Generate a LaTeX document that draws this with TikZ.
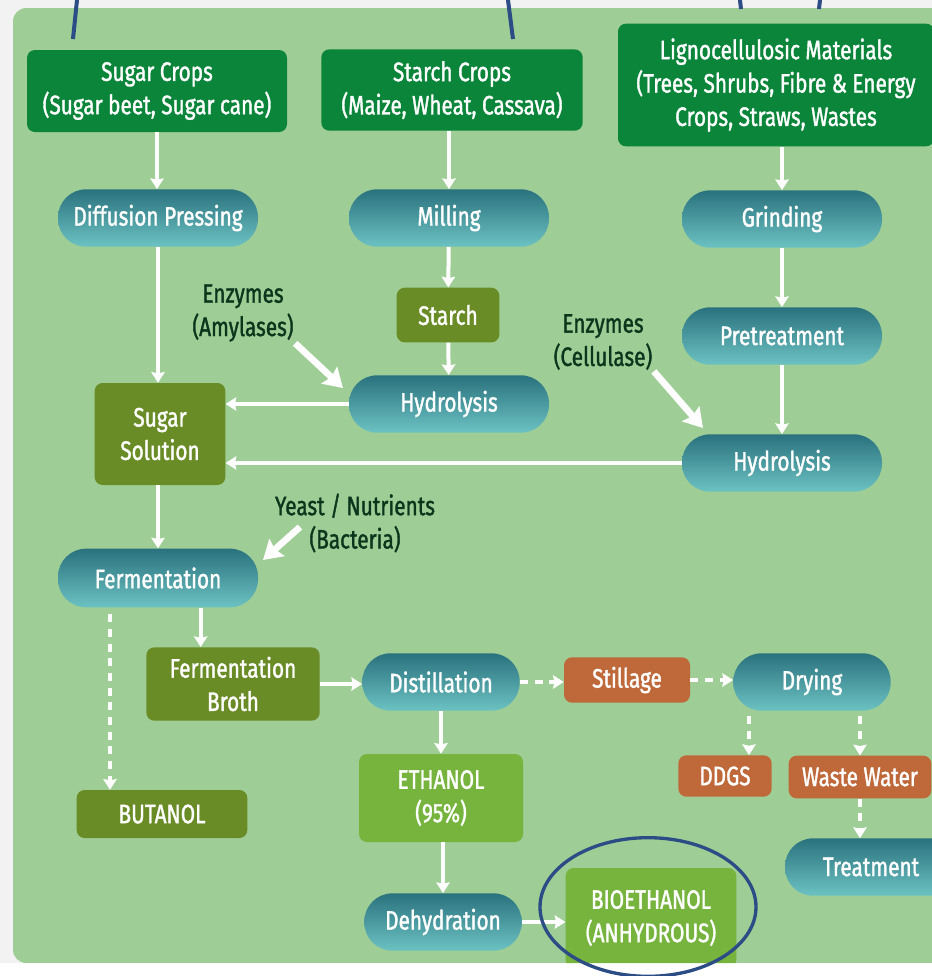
\documentclass[tikz,border=0pt]{standalone}
\usepackage{fontspec}
\setmainfont{Fira Sans}[FakeStretch=0.78, FakeBold=1.3]
\usetikzlibrary{arrows.meta}

\definecolor{panelgreen}{RGB}{158,205,150}
\definecolor{cropgreen}{RGB}{10,133,58}
\definecolor{olive}{RGB}{106,140,38}
\definecolor{leaf}{RGB}{118,180,62}
\definecolor{rust}{RGB}{191,105,58}
\definecolor{tealdark}{RGB}{42,114,126}
\definecolor{teallight}{RGB}{108,194,194}
\definecolor{inkgreen}{RGB}{12,54,28}
\definecolor{navy}{RGB}{44,76,134}

\tikzset{
  box/.style={rounded corners=6pt, text=white, align=center, inner sep=2pt,
    font=\fontsize{20}{25}\selectfont},
  crop/.style={box, fill=cropgreen},
  stage/.style={box, fill=olive},
  product/.style={box, fill=leaf},
  byproduct/.style={box, fill=rust},
  process/.style={box, rounded corners=21pt, top color=tealdark, bottom color=teallight,
    minimum width=150pt, minimum height=43pt},
  input/.style={text=inkgreen, align=center, inner sep=1pt, font=\fontsize{20}{25}\selectfont},
  flow/.style={white, line width=3pt, -{Stealth[length=8pt,width=10pt,inset=1pt]}},
  sideflow/.style={flow, dash pattern=on 6pt off 5pt},
  feed/.style={white, line width=5pt, -{Stealth[length=14pt,width=17pt,inset=2pt]}}
}

\begin{document}
\begin{tikzpicture}[x=0.75pt, y=-0.75pt]
	\useasboundingbox (0,0) rectangle (932,976);
	% page behind the panel
	\fill[black!5] (0,0) rectangle (932,976);
	\fill[white] (0,963) rectangle (932,976);

	\begin{scope}
	\path[clip, rounded corners=10pt] (13,8) rectangle (960,963);
	\fill[panelgreen] (13,8) rectangle (960,963);

	% feedstocks
	\node[crop, minimum width=195pt, minimum height=61.5pt] (sugarcrops) at (157,91) {Sugar Crops\\(Sugar beet, Sugar cane)};
	\node[crop, minimum width=196pt, minimum height=61pt] (starchcrops) at (452,90) {Starch Crops\\(Maize, Wheat, Cassava)};
	\node[crop, minimum width=237pt, minimum height=92pt] (ligno) at (776,85) {Lignocellulosic Materials\\(Trees, Shrubs, Fibre \& Energy\\Crops, Straws, Wastes};

	% process steps
	\node[process] (diffusion) at (158,218) {Diffusion Pressing};
	\node[process] (milling) at (449,218) {Milling};
	\node[process] (grinding) at (782,219) {Grinding};
	\node[stage, minimum width=77pt, minimum height=41pt] (starch) at (448,315) {Starch};
	\node[process] (hydroA) at (449,404) {Hydrolysis};
	\node[process] (pretreat) at (782,336) {Pretreatment};
	\node[process] (hydroB) at (782,463) {Hydrolysis};
	\node[stage, minimum width=98pt, minimum height=76.5pt] (sugarsol) at (160,434) {Sugar\\Solution};
	\node[process, minimum height=44pt] (fermentation) at (158,578) {Fermentation};
	\node[stage, minimum width=130pt, minimum height=55pt] (broth) at (233,684) {Fermentation\\Broth};
	\node[stage, minimum width=128pt, minimum height=36pt] (butanol) at (162,814) {BUTANOL};
	\node[process, minimum width=118pt] (distill) at (441,682) {Distillation};
	\node[product, minimum width=123pt, minimum height=66pt] (ethanol) at (441,798) {ETHANOL\\(95\%)};
	\node[process, minimum width=118pt] (dehyd) at (443,922) {Dehydration};
	\node[product, minimum width=128pt, minimum height=75pt] (bioeth) at (651,918) {BIOETHANOL\\(ANHYDROUS)};
	\node[byproduct, minimum width=94.5pt, minimum height=34pt] (stillage) at (627,680) {Stillage};
	\node[process, minimum width=118pt] (drying) at (812,682) {Drying};
	\node[byproduct, minimum width=70pt, minimum height=31pt] (ddgs) at (725,776) {DDGS};
	\node[byproduct, minimum width=107pt, minimum height=32pt] (waste) at (860,777) {Waste Water};
	\node[process, minimum width=129pt] (treatment) at (871,867) {Treatment};

	% inputs
	\node[input] (amylase) at (243,313) {Enzymes\\(Amylases)};
	\node[input] (cellulase) at (603,342) {Enzymes\\(Cellulase)};
	\node[input] (yeast) at (355,523) {Yeast / Nutrients\\(Bacteria)};
	\coordinate (amylase tip) at (343,388);
	\coordinate (cellulase tip) at (703,428);
	\coordinate (yeast tail) at (300,527);
	\coordinate (yeast tip) at (263,560);

	% main flow
	\draw[flow] (sugarcrops.south) -- (sugarcrops.south |- diffusion.north);
	\draw[flow] (starchcrops.south -| milling.north) -- (milling.north);
	\draw[flow] (ligno.south -| grinding.north) -- (grinding.north);
	\draw[flow] (milling) -- (starch);
	\draw[flow] (starch) -- (hydroA);
	\draw[flow] (grinding) -- (pretreat);
	\draw[flow] (pretreat) -- (hydroB);
	\draw[flow] (diffusion.south) -- (diffusion.south |- sugarsol.north);
	\draw[flow] (hydroA.west) -- (hydroA.west -| sugarsol.east);
	\draw[flow] (hydroB.west) -- (hydroB.west -| sugarsol.east);
	\draw[flow] (fermentation.north |- sugarsol.south) -- (fermentation.north);
	\draw[flow] ([xshift=32pt]fermentation.south) -- ([xshift=32pt]fermentation.south |- broth.north);
	\draw[flow] (broth.east) -- (broth.east -| distill.west);
	\draw[flow] (distill.south) -- (distill.south |- ethanol.north);
	\draw[flow] (ethanol.south -| dehyd.north) -- (dehyd.north);
	\draw[flow] (dehyd.east) -- (dehyd.east -| bioeth.west);

	% side products
	\draw[sideflow, shorten <=5pt] ([xshift=-36pt]fermentation.south) -- ([xshift=-36pt]fermentation.south |- butanol.north);
	\draw[sideflow] (distill.east) -- (distill.east -| stillage.west);
	\draw[sideflow] (stillage.east) -- (stillage.east -| drying.west);
	\draw[sideflow, shorten <=4pt] ([xshift=18pt]ddgs.north |- drying.south) -- ([xshift=18pt]ddgs.north);
	\draw[sideflow, shorten <=4pt] (waste.north |- drying.south) -- (waste.north);
	\draw[sideflow] (waste.south) -- (waste.south |- treatment.north);

	% inputs arrows
	\draw[feed] (amylase.south east) -- (amylase tip);
	\draw[feed] (cellulase.south east) -- (cellulase tip);
	\draw[feed] (yeast tail) -- (yeast tip);
	\end{scope}

	% navy marks
	\draw[navy, line width=2.5pt] (648,907) ellipse [x radius=81pt, y radius=52pt];
	\draw[navy, line width=3pt] (77,0) .. controls (75,20) .. (73,39);
	\draw[navy, line width=3pt] (508,0) .. controls (511,20) .. (513,39);
	\draw[navy, line width=3pt] (740,0) -- (741,9);
	\draw[navy, line width=3pt] (820,0) -- (819,9);
\end{tikzpicture}
\end{document}
